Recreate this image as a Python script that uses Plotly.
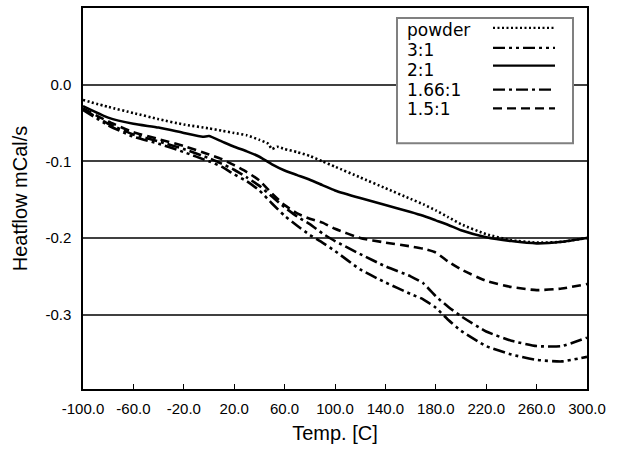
import plotly.graph_objects as go

# ---------------- data ----------------
temps = [-100, -80, -60, -40, -20, 0, 10, 20, 30, 40, 50, 60, 70, 80, 90, 100,
         120, 140, 160, 170, 180, 190, 200, 220, 240, 260, 280, 300]

powder_temps = [-100, -80, -60, -40, -20, 0, 10, 20, 30, 40, 47, 50, 54, 60, 70, 80, 90, 100,
                120, 140, 160, 170, 180, 190, 200, 220, 240, 260, 280, 300]
powder = [-0.020, -0.029, -0.037, -0.045, -0.052, -0.057, -0.060, -0.063, -0.066, -0.072,
          -0.077, -0.084, -0.081, -0.084, -0.088, -0.093, -0.100, -0.107,
          -0.121, -0.135, -0.149, -0.156, -0.164, -0.173, -0.182, -0.195, -0.203, -0.206, -0.205, -0.200]

two_temps = [-100, -80, -60, -40, -20, -5, 0, 10, 20, 30, 40, 50, 60, 70, 80, 90, 100,
             120, 140, 160, 170, 180, 190, 200, 220, 240, 260, 280, 300]
ratio_2_1 = [-0.028, -0.043, -0.051, -0.056, -0.063, -0.068, -0.067, -0.074, -0.081, -0.087,
             -0.094, -0.104, -0.112, -0.118, -0.124, -0.131, -0.138,
             -0.148, -0.157, -0.166, -0.171, -0.177, -0.183, -0.190, -0.199, -0.204, -0.207, -0.205, -0.200]

ratio_1_5_1 = [-0.031, -0.048, -0.062, -0.071, -0.080, -0.091, -0.097, -0.105, -0.114, -0.125,
               -0.142, -0.157, -0.168, -0.175, -0.180, -0.188, -0.200, -0.206, -0.211, -0.214,
               -0.219, -0.231, -0.241, -0.256, -0.264, -0.268, -0.266, -0.260]

ratio_1_66_1 = [-0.032, -0.051, -0.065, -0.074, -0.084, -0.096, -0.103, -0.111, -0.121, -0.132,
                -0.146, -0.160, -0.172, -0.182, -0.194, -0.204, -0.221, -0.237, -0.250, -0.259,
                -0.276, -0.290, -0.302, -0.322, -0.334, -0.341, -0.341, -0.330]

ratio_3_1 = [-0.033, -0.053, -0.068, -0.077, -0.088, -0.100, -0.107, -0.117, -0.126, -0.138,
             -0.155, -0.171, -0.184, -0.196, -0.206, -0.217, -0.241, -0.258, -0.273, -0.280,
             -0.291, -0.307, -0.321, -0.341, -0.352, -0.359, -0.361, -0.355]

x_ticks = [-100, -60, -20, 20, 60, 100, 140, 180, 220, 260, 300]
x_tick_labels = ["-100.0", "-60.0", "-20.0", "20.0", "60.0", "100.0", "140.0",
                 "180.0", "220.0", "260.0", "300.0"]
y_ticks = [0.0, -0.1, -0.2, -0.3]
y_tick_labels = ["0.0", "-0.1", "-0.2", "-0.3"]

legend_names = ["powder", "3:1", "2:1", "1.66:1", "1.5:1"]

# ---------------- styles ----------------
DOT = "2px,2.5px"
DASH_DOT_DOT = "12px,4px,3px,4px,3px,4px"
DASH_DOT = "12px,4px,3px,4px"
DASH = "9px,5px"
W = 2.6

series = [
    ("powder", powder_temps, powder, DOT),
    ("3:1", temps, ratio_3_1, DASH_DOT_DOT),
    ("2:1", two_temps, ratio_2_1, "solid"),
    ("1.66:1", temps, ratio_1_66_1, DASH_DOT),
    ("1.5:1", temps, ratio_1_5_1, DASH),
]

fig = go.Figure()
for name, xs, ys, dash in series:
    fig.add_trace(go.Scatter(
        x=xs, y=ys, mode="lines", name=name,
        line=dict(color="black", width=W, dash=dash, shape="spline", smoothing=0.5),
        showlegend=False,
    ))

# ---------------- layout ----------------
W_FIG, H_FIG = 622, 452
L, R, T, B = 83, 35, 6, 63
PW = W_FIG - L - R
PH = H_FIG - T - B


def px(xp):
    return (xp - L) / PW


def py(yp):
    return (H_FIG - B - yp) / PH


shapes = [
    dict(type="rect", xref="paper", yref="paper",
         x0=px(397), x1=px(573), y0=py(142), y1=py(16),
         fillcolor="white", line=dict(color="#808080", width=2), layer="above"),
]
annotations = []
row_y = [28, 48, 68, 88, 108]
sample_y = [26, 46, 64, 88, 107]
dashes = {"powder": DOT, "3:1": DASH_DOT_DOT, "2:1": "solid", "1.66:1": DASH_DOT, "1.5:1": DASH}
for name, ty, sy in zip(legend_names, row_y, sample_y):
    annotations.append(dict(
        xref="paper", yref="paper", x=px(405), y=py(ty), xanchor="left", yanchor="middle",
        text=name, showarrow=False,
        font=dict(family="DejaVu Sans", size=17, color="black"),
    ))
    shapes.append(dict(
        type="line", xref="paper", yref="paper",
        x0=px(493), x1=px(555), y0=py(sy), y1=py(sy),
        line=dict(color="black", width=2.2, dash=dashes[name]), layer="above",
    ))

fig.update_layout(
    width=W_FIG, height=H_FIG,
    margin=dict(l=L, r=R, t=T, b=B, pad=0),
    paper_bgcolor="white", plot_bgcolor="white",
    font=dict(family="Liberation Sans, Arial", size=15, color="black"),
    shapes=shapes, annotations=annotations,
)
fig.update_xaxes(
    range=[-100, 300], tickvals=x_ticks, ticktext=x_tick_labels,
    showgrid=False, zeroline=False,
    showline=True, linecolor="black", linewidth=1.5, mirror=True,
    ticks="inside", ticklen=5, tickcolor="black", tickwidth=1.2,
    ticklabelstandoff=5,
    title=dict(text="Temp. [C]", font=dict(size=20), standoff=10),
    tickfont=dict(size=15),
)
fig.update_yaxes(
    range=[-0.397, 0.1], tickvals=y_ticks, ticktext=y_tick_labels,
    showgrid=True, gridcolor="#404040", gridwidth=1.5, zeroline=False,
    showline=True, linecolor="black", linewidth=1.5, mirror=True,
    ticks="", ticklabelstandoff=7,
    title=dict(text="Heatflow mCal/s", font=dict(size=20), standoff=12),
    tickfont=dict(size=15),
)

fig.write_html(
    "out.html",
    config={"displayModeBar": False},
    post_script="document.body.style.margin='0';document.body.style.overflow='hidden';",
)
